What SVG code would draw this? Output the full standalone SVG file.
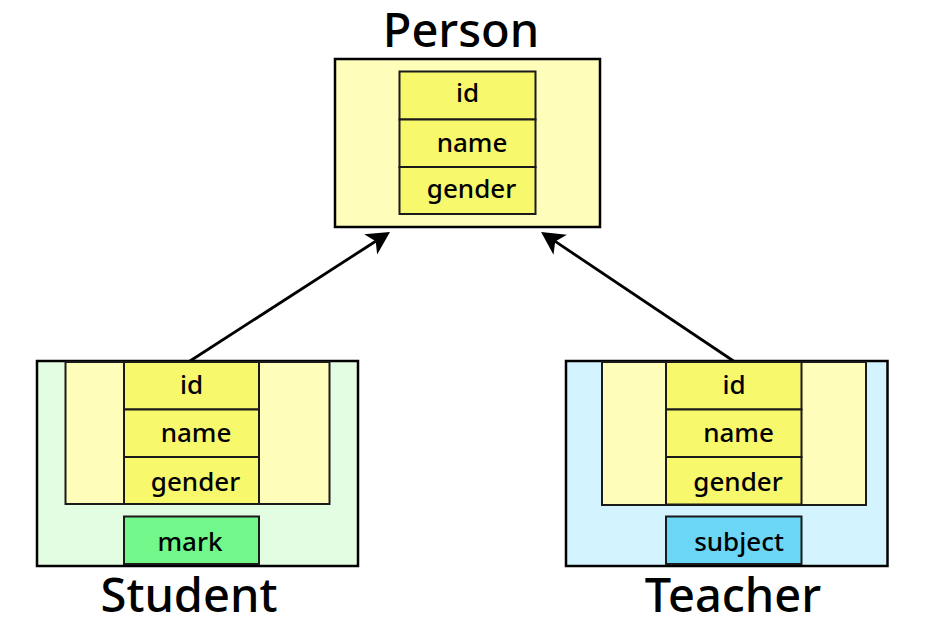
<svg xmlns="http://www.w3.org/2000/svg" width="925" height="643" viewBox="0 0 925 643">
<style>
.title{font-family:"Noto Sans","Open Sans",sans-serif;font-size:47px;font-weight:500;fill:#000;text-anchor:middle}
.f{font-family:"Noto Sans","Open Sans",sans-serif;font-size:26px;font-weight:500;fill:#000;text-anchor:middle}
.outer{stroke:#000;stroke-width:2.5}
.base{fill:#FEFDB9;stroke:#1a1a1a;stroke-width:2}
.fld{fill:#F8F86C;stroke:#1a1a1a;stroke-width:2}
.edge{stroke:#000;stroke-width:2.8;fill:none;marker-end:url(#ah)}
</style>
<defs>
<marker id="ah" markerUnits="userSpaceOnUse" viewBox="-24 -13 26 26" markerWidth="26" markerHeight="26" refX="-17" refY="0" orient="auto">
<path d="M0,0 L-23,-12 L-17,0 L-23,12 Z" fill="#000"/>
</marker>
</defs>
<rect width="925" height="643" fill="#fff"/>
<g id="connectors">
<line class="edge" x1="190" y1="361" x2="375.7" y2="241.2"/>
<line class="edge" x1="733.5" y1="361" x2="555.2" y2="241.4"/>
</g>
<g id="person">
<text class="title" x="461" y="46.5">Person</text>
<rect class="outer" x="335" y="59" width="265" height="168" fill="#FEFDB9"/>
<rect class="fld" x="399.5" y="71.5" width="136" height="48"/>
<rect class="fld" x="399.5" y="119.5" width="136" height="47.5"/>
<rect class="fld" x="399.5" y="167" width="136" height="47"/>
<text class="f" x="467.5" y="102">id</text>
<text class="f" x="472" y="152">name</text>
<text class="f" x="471.5" y="197.5">gender</text>
</g>
<g id="student">
<rect class="outer" x="37" y="361" width="321" height="205" fill="#E2FDE2"/>
<rect class="base" x="65.5" y="362" width="264" height="142"/>
<rect class="fld" x="124" y="362" width="135" height="47.5"/>
<rect class="fld" x="124" y="409.5" width="135" height="47.5"/>
<rect class="fld" x="124" y="457" width="135" height="47"/>
<rect x="124" y="516.5" width="135" height="47.5" fill="#72F78A" stroke="#1a1a1a" stroke-width="2"/>
<text class="f" x="191.5" y="393.5">id</text>
<text class="f" x="196" y="442">name</text>
<text class="f" x="195.5" y="490.5">gender</text>
<text class="f" x="190" y="550.5">mark</text>
<text class="title" x="189" y="612">Student</text>
</g>
<g id="teacher">
<rect class="outer" x="566" y="361" width="321.5" height="205" fill="#D3F4FE"/>
<rect class="base" x="602" y="362" width="264" height="143"/>
<rect class="fld" x="666" y="362" width="135.5" height="47.5"/>
<rect class="fld" x="666" y="409.5" width="135.5" height="47.5"/>
<rect class="fld" x="666" y="457" width="135.5" height="47.5"/>
<rect x="666" y="516.5" width="135.5" height="47.5" fill="#6CD6F6" stroke="#1a1a1a" stroke-width="2"/>
<text class="f" x="734" y="393.5">id</text>
<text class="f" x="738.5" y="442">name</text>
<text class="f" x="738" y="490.5">gender</text>
<text class="f" x="739" y="550.5">subject</text>
<text class="title" x="733" y="612">Teacher</text>
</g>
</svg>
